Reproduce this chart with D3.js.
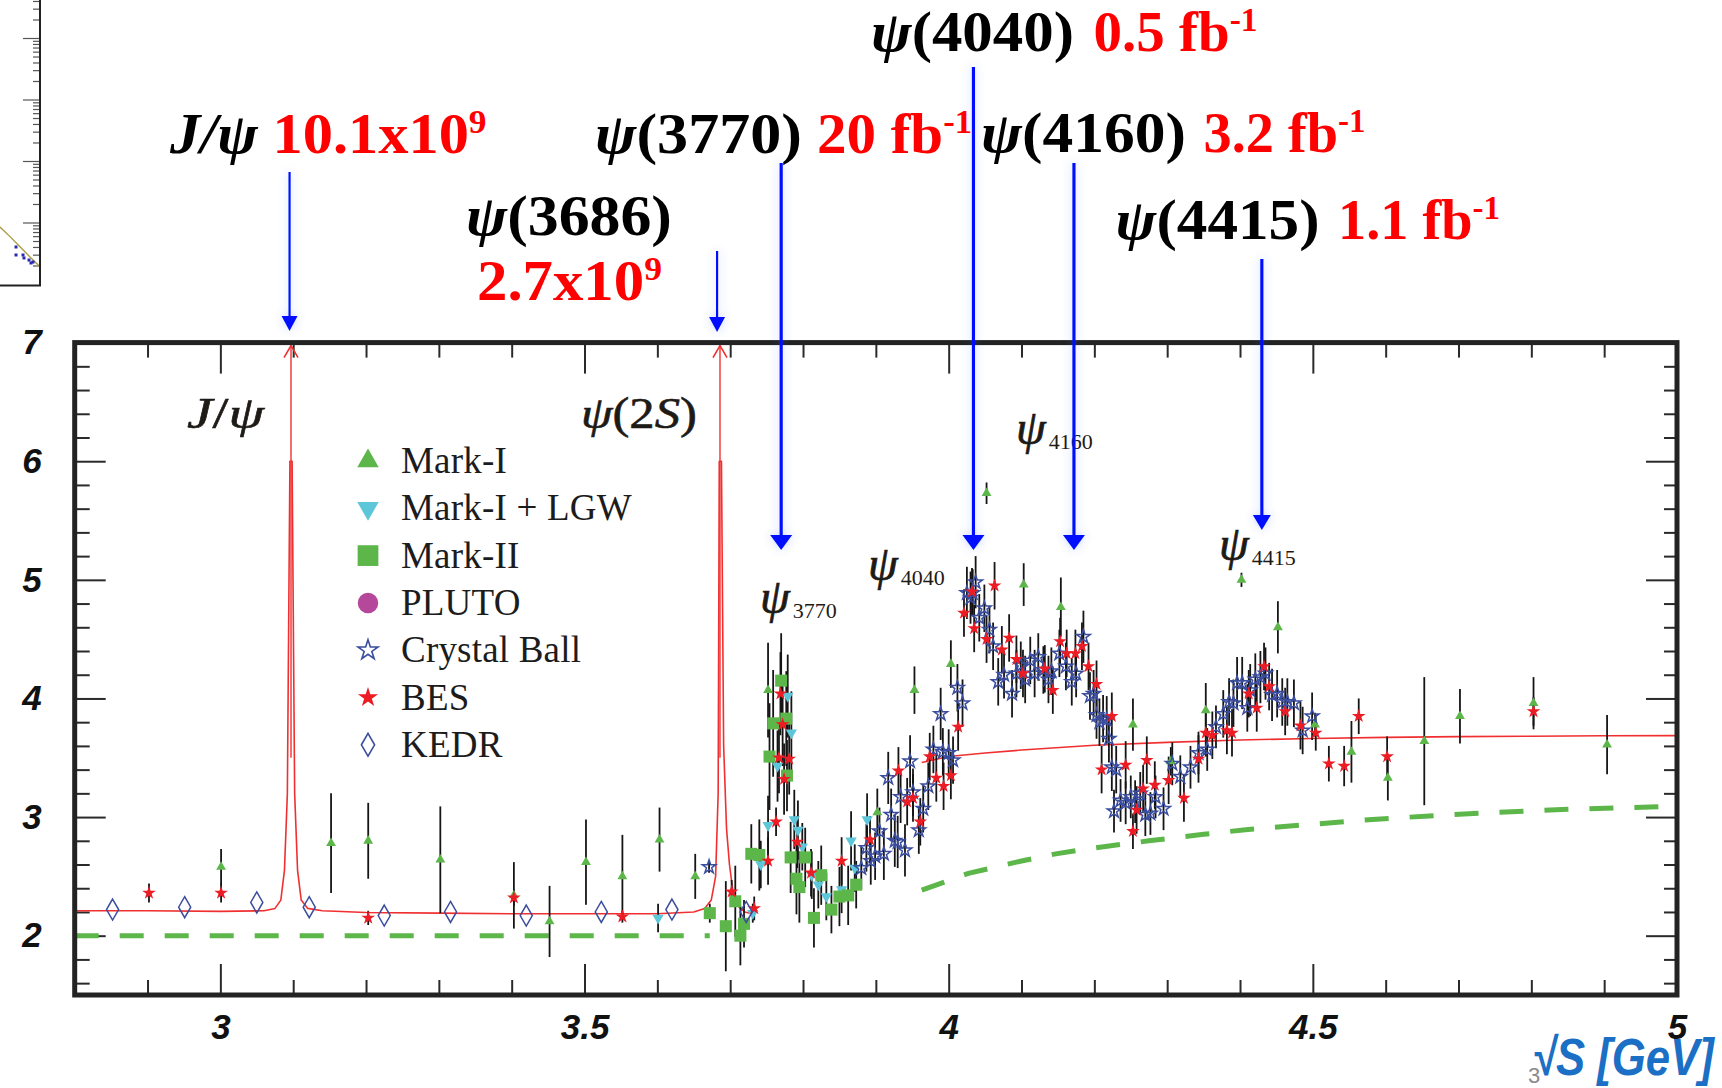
<!DOCTYPE html>
<html>
<head>
<meta charset="utf-8">
<script src="https://cdn.jsdelivr.net/npm/d3@7"></script>
<style>
  html, body { margin: 0; padding: 0; background: #ffffff; }
  svg { display: block; }
</style>
</head>
<body>
<svg id="chart" width="1722" height="1088"></svg>
<script>
// ---------------------------------------------------------------
// R ratio vs. centre-of-mass energy in the charmonium region
// ---------------------------------------------------------------

// axis ranges and ticks
const xDomain = [2.8, 5.0];
const yDomain = [1.5, 7.0];
const xMajorTicks = [3, 3.5, 4, 4.5, 5];
const xTickLabels = ["3", "3.5", "4", "4.5", "5"];
const yMajorTicks = [2, 3, 4, 5, 6, 7];
const yTickLabels = ["2", "3", "4", "5", "6", "7"];

// measurements: [sqrt(s) GeV, R, error]
const markI = [
  [3.001, 2.58, 0.15], [3.152, 2.78, 0.42], [3.203, 2.80, 0.32], [3.302, 2.64, 0.45],
  [3.403, 2.34, 0.28], [3.452, 2.12, 0.30], [3.502, 2.62, 0.36], [3.552, 2.50, 0.35],
  [3.603, 2.81, 0.27], [3.652, 2.50, 0.19], [3.752, 4.07, 0.40], [3.902, 3.04, 0.20],
  [3.953, 4.07, 0.20], [4.003, 4.29, 0.20], [4.052, 5.73, 0.09], [4.103, 4.96, 0.18],
  [4.154, 4.77, 0.25], [4.253, 3.78, 0.22], [4.305, 3.47, 0.12], [4.353, 3.90, 0.23],
  [4.402, 5.00, 0.06], [4.452, 4.60, 0.22], [4.503, 3.78, 0.10], [4.553, 3.55, 0.26],
  [4.603, 3.33, 0.19], [4.653, 3.64, 0.54], [4.702, 3.85, 0.23], [4.803, 3.96, 0.22],
  [4.904, 3.61, 0.25]
];

const markILGW = [
  [3.601, 2.15, 0.12], [3.731, 2.19, 0.08], [3.742, 2.60, 0.20], [3.752, 2.93, 0.25],
  [3.765, 3.43, 0.30], [3.779, 4.02, 0.35], [3.784, 3.71, 0.35], [3.788, 2.98, 0.25],
  [3.793, 2.89, 0.25], [3.799, 2.75, 0.20], [3.812, 2.51, 0.20], [3.821, 2.43, 0.20],
  [3.832, 2.33, 0.20], [3.853, 2.39, 0.20], [3.866, 2.80, 0.25], [3.871, 2.57, 0.20],
  [3.888, 2.98, 0.22]
];

const markII = [
  [3.672, 2.19, 0.08], [3.694, 2.08, 0.38], [3.707, 2.29, 0.30], [3.714, 2.00, 0.25],
  [3.719, 2.10, 0.20], [3.729, 2.69, 0.25], [3.740, 2.68, 0.30], [3.754, 3.51, 0.45],
  [3.759, 3.79, 0.45], [3.770, 4.15, 0.40], [3.777, 3.83, 0.40], [3.778, 3.35, 0.30],
  [3.783, 2.66, 0.30], [3.791, 2.48, 0.30], [3.795, 2.41, 0.30], [3.803, 2.66, 0.25],
  [3.815, 2.15, 0.25], [3.825, 2.51, 0.25], [3.839, 2.22, 0.20], [3.850, 2.33, 0.25],
  [3.862, 2.34, 0.25], [3.873, 2.43, 0.20]
];

const pluto = [];

const crystalBall = [
  [3.671, 2.58, 0.05], [3.880, 2.57, 0.18], [3.887, 2.74, 0.20], [3.893, 2.63, 0.20],
  [3.899, 2.67, 0.20], [3.905, 2.88, 0.20], [3.911, 2.69, 0.22], [3.917, 3.33, 0.22],
  [3.921, 3.02, 0.22], [3.926, 2.80, 0.22], [3.930, 2.79, 0.22], [3.934, 3.17, 0.22],
  [3.940, 2.72, 0.22], [3.947, 3.47, 0.22], [3.951, 3.21, 0.20], [3.959, 2.89, 0.20],
  [3.965, 3.07, 0.20], [3.972, 3.26, 0.20], [3.979, 3.57, 0.20], [3.989, 3.87, 0.22],
  [3.992, 3.55, 0.20], [4.000, 3.54, 0.20], [4.006, 3.48, 0.20], [4.012, 4.09, 0.20],
  [4.019, 3.96, 0.20], [4.025, 4.89, 0.22], [4.030, 4.85, 0.22], [4.033, 4.89, 0.20],
  [4.037, 4.98, 0.22], [4.042, 4.68, 0.20], [4.049, 4.76, 0.20], [4.056, 4.58, 0.20],
  [4.061, 4.44, 0.20], [4.068, 4.14, 0.20], [4.076, 4.20, 0.20], [4.087, 4.04, 0.20],
  [4.093, 4.21, 0.20], [4.099, 4.28, 0.20], [4.105, 4.16, 0.20], [4.112, 4.32, 0.20],
  [4.118, 4.21, 0.20], [4.123, 4.35, 0.20], [4.130, 4.24, 0.20], [4.137, 4.16, 0.20],
  [4.141, 4.23, 0.20], [4.152, 4.38, 0.20], [4.161, 4.27, 0.20], [4.169, 4.14, 0.20],
  [4.175, 4.21, 0.20], [4.185, 4.52, 0.22], [4.194, 4.02, 0.20], [4.199, 4.04, 0.20],
  [4.203, 3.86, 0.20], [4.207, 3.80, 0.20], [4.212, 3.83, 0.20], [4.217, 3.82, 0.20],
  [4.220, 3.66, 0.20], [4.224, 3.42, 0.20], [4.230, 3.40, 0.20], [4.227, 3.05, 0.18],
  [4.236, 3.14, 0.18], [4.243, 3.12, 0.18], [4.250, 3.17, 0.18], [4.256, 3.13, 0.18],
  [4.263, 3.20, 0.18], [4.270, 3.02, 0.18], [4.277, 3.03, 0.18], [4.284, 3.17, 0.18],
  [4.295, 3.07, 0.18], [4.307, 3.45, 0.18], [4.318, 3.34, 0.18], [4.332, 3.42, 0.18],
  [4.343, 3.54, 0.18], [4.355, 3.57, 0.18], [4.367, 3.76, 0.18], [4.377, 3.87, 0.20],
  [4.385, 3.97, 0.20], [4.391, 3.96, 0.20], [4.396, 4.13, 0.22], [4.403, 4.13, 0.22],
  [4.410, 3.92, 0.20], [4.414, 4.07, 0.22], [4.421, 4.16, 0.22], [4.428, 4.18, 0.22],
  [4.435, 4.21, 0.22], [4.444, 4.03, 0.22], [4.451, 4.04, 0.20], [4.458, 3.97, 0.20],
  [4.465, 3.97, 0.20], [4.474, 3.96, 0.20], [4.486, 3.73, 0.20], [4.499, 3.85, 0.20]
];

const bes = [
  [2.902, 2.36, 0.08], [3.001, 2.36, 0.08], [3.203, 2.15, 0.06], [3.403, 2.32, 0.07],
  [3.552, 2.16, 0.05], [3.702, 2.37, 0.10], [3.733, 2.23, 0.10], [3.752, 2.63, 0.20],
  [3.763, 2.96, 0.12], [3.767, 3.50, 0.30], [3.769, 4.04, 0.35], [3.772, 3.78, 0.35],
  [3.774, 3.32, 0.30], [3.781, 3.49, 0.30], [3.792, 2.79, 0.22], [3.811, 2.53, 0.20],
  [3.853, 2.63, 0.20], [3.892, 2.81, 0.20], [3.931, 3.39, 0.20], [3.943, 3.13, 0.20],
  [3.951, 3.16, 0.20], [3.961, 2.96, 0.20], [3.974, 3.51, 0.20], [3.983, 3.33, 0.20],
  [3.993, 3.26, 0.20], [4.003, 3.35, 0.20], [4.013, 3.76, 0.20], [4.021, 4.72, 0.20],
  [4.032, 4.90, 0.20], [4.035, 4.59, 0.20], [4.052, 4.50, 0.20], [4.063, 4.95, 0.20],
  [4.073, 4.41, 0.20], [4.083, 4.51, 0.20], [4.093, 4.33, 0.20], [4.102, 4.21, 0.20],
  [4.132, 4.25, 0.20], [4.143, 4.07, 0.20], [4.153, 4.48, 0.20], [4.162, 4.38, 0.20],
  [4.174, 4.38, 0.20], [4.183, 4.44, 0.20], [4.192, 4.27, 0.20], [4.203, 4.12, 0.20],
  [4.210, 3.40, 0.20], [4.224, 3.85, 0.20], [4.243, 3.44, 0.20], [4.253, 2.88, 0.15],
  [4.258, 3.06, 0.20], [4.267, 3.24, 0.20], [4.272, 3.48, 0.20], [4.283, 3.27, 0.20],
  [4.302, 3.31, 0.20], [4.323, 3.16, 0.20], [4.343, 3.49, 0.20], [4.353, 3.71, 0.20],
  [4.362, 3.69, 0.20], [4.382, 3.73, 0.20], [4.389, 3.71, 0.20], [4.412, 4.04, 0.20],
  [4.423, 3.92, 0.20], [4.433, 4.27, 0.20], [4.440, 4.10, 0.20], [4.462, 3.89, 0.20],
  [4.483, 3.77, 0.20], [4.504, 3.71, 0.15], [4.522, 3.45, 0.15], [4.543, 3.43, 0.17],
  [4.563, 3.85, 0.15], [4.602, 3.51, 0.17], [4.803, 3.89, 0.12]
];

const kedr = [
  [2.852, 2.22, 0], [2.951, 2.24, 0], [3.050, 2.28, 0], [3.122, 2.24, 0], [3.225, 2.17, 0],
  [3.316, 2.20, 0], [3.420, 2.17, 0], [3.523, 2.20, 0], [3.620, 2.22, 0], [3.722, 2.20, 0]
];

// theory curves: [sqrt(s) GeV, R]
const fitCurveLow = [
  [2.80, 2.21], [2.90, 2.21], [3.00, 2.205], [3.06, 2.21], [3.075, 2.23], [3.083, 2.30],
  [3.088, 2.55], [3.092, 3.20], [3.0955, 6.0], [3.0985, 6.0], [3.102, 3.20], [3.106, 2.55],
  [3.111, 2.30], [3.12, 2.23], [3.14, 2.21], [3.20, 2.195], [3.30, 2.19], [3.40, 2.185],
  [3.50, 2.185], [3.60, 2.185], [3.65, 2.20], [3.665, 2.23], [3.674, 2.30], [3.680, 2.50],
  [3.6835, 3.20], [3.685, 6.0], [3.688, 6.0], [3.691, 3.60], [3.695, 2.90], [3.699, 2.60],
  [3.704, 2.36], [3.711, 2.25], [3.720, 2.20], [3.733, 2.18]
];
const fitCurveHigh = [
  [3.963, 3.46], [4.00, 3.51], [4.05, 3.54], [4.10, 3.565], [4.20, 3.605], [4.30, 3.63],
  [4.40, 3.65], [4.50, 3.663], [4.60, 3.672], [4.70, 3.678], [4.80, 3.682], [4.90, 3.685],
  [5.00, 3.687]
];
const pqcdLow = [[2.80, 2.0], [3.672, 2.0]];
const pqcdHigh = [
  [3.963, 2.384], [4.027, 2.525], [4.10, 2.63], [4.147, 2.69], [4.20, 2.74], [4.275, 2.80],
  [4.35, 2.855], [4.411, 2.896], [4.50, 2.94], [4.582, 2.98], [4.66, 3.01], [4.752, 3.04],
  [4.85, 3.065], [4.93, 3.08], [5.00, 3.09]
];
// narrow resonances drawn as arrows running off the scale
const narrowPeaks = [3.097, 3.686];

// resonances marked with blue arrows, and the data samples collected there
const resonanceArrowX = [3.095, 3.682, 3.770, 4.034, 4.172, 4.430];
const resonanceNames = ["J/ψ", "ψ(3686)", "ψ(3770)", "ψ(4040)", "ψ(4160)", "ψ(4415)"];
const sampleValues = ["10.1x10", "2.7x10", "20 fb", "0.5 fb", "3.2 fb", "1.1 fb"];
const sampleExponents = ["9", "9", "-1", "-1", "-1", "-1"];

// small log-scale panel at the upper left edge
const insetCurve = [[0.0, 8.6], [0.25, 6.0], [0.5, 4.1], [0.75, 2.8], [1.0, 1.95]];
const insetPoints = [[0.40, 4.07], [0.40, 3.02], [0.575, 3.02], [0.60, 2.70], [0.725, 2.50], [0.775, 2.24], [0.825, 2.32]];

// ---------------------------------------------------------------
const svg = d3.select("#chart");
const plot = { left: 74.7, right: 1677, top: 342.6, bottom: 995 };

const x = d3.scaleLinear().domain(xDomain).range([plot.left, plot.right]);
const y = d3.scaleLinear().domain(yDomain).range([plot.bottom, plot.top]);

const GREEN = "#5cb649", CYAN = "#5ec6d9", MAGENTA = "#b6489b",
      BLUE = "#3a4d9e", RED = "#ec1c24";

// stretch a text horizontally about its anchor so it spans a given width
function fitWidth(sel, x0, width) {
  const w = sel.node().getComputedTextLength();
  if (w > 0) sel.attr("transform", `translate(${x0},0) scale(${width / w},1) translate(${-x0},0)`);
  return sel;
}

const defs = svg.append("defs");
defs.append("clipPath").attr("id", "plotClip")
  .append("rect").attr("x", plot.left).attr("y", plot.top - 2)
  .attr("width", plot.right - plot.left).attr("height", plot.bottom - plot.top + 2);

const glow = defs.append("filter").attr("id", "glow")
  .attr("x", "-300%").attr("y", "-10%").attr("width", "700%").attr("height", "120%");
glow.append("feGaussianBlur").attr("in", "SourceAlpha").attr("stdDeviation", 5).attr("result", "b");
glow.append("feFlood").attr("flood-color", "#4060ff").attr("flood-opacity", 0.28).attr("result", "c");
glow.append("feComposite").attr("in", "c").attr("in2", "b").attr("operator", "in").attr("result", "g");
const gm = glow.append("feMerge");
gm.append("feMergeNode").attr("in", "g");
gm.append("feMergeNode").attr("in", "SourceGraphic");

// ---------- inset fragment (log axis) ----------
const insetY = d3.scaleLog().domain([1, 1e4]).range([284.5, 38.5]);
const insetX = d3.scaleLinear().domain([0, 1]).range([0, 40]);
const inset = svg.append("g");
const insetTicks = [];
for (let n = 0; n <= 4; n++) for (let k = 1; k <= 9; k++) {
  const v = k * Math.pow(10, n);
  if (insetY(v) >= 0 && v > 1) insetTicks.push({ v, major: k === 1 });
}
inset.selectAll("line.t").data(insetTicks).join("line")
  .attr("x1", d => d.major ? 23 : 33).attr("x2", 40)
  .attr("y1", d => insetY(d.v)).attr("y2", d => insetY(d.v))
  .attr("stroke", "#555").attr("stroke-width", 1.2);
inset.append("path")
  .attr("d", d3.line().x(d => insetX(d[0])).y(d => insetY(d[1]))(insetCurve))
  .attr("fill", "none").attr("stroke", "#a89a3c").attr("stroke-width", 1.3);
inset.selectAll("rect.p").data(insetPoints).join("rect")
  .attr("x", d => insetX(d[0]) - 1.5).attr("y", d => insetY(d[1]) - 1.5)
  .attr("width", 3).attr("height", 3).attr("fill", "#2a2ab0");
inset.append("path").attr("d", "M40,0 V285.5 H0").attr("fill", "none")
  .attr("stroke", "#222").attr("stroke-width", 2);

// ---------- axes ----------
function steps(a, b, s) {
  return d3.range(Math.round(a / s), Math.round(b / s) + 1).map(i => +(i * s).toFixed(3));
}
const xMinor = steps(2.9, 4.9, 0.1).filter(v => !xMajorTicks.some(m => Math.abs(m - v) < 1e-6));
const yMinor = steps(1.6, 6.8, 0.2).filter(v => Math.abs(v - Math.round(v)) > 1e-6);

const axisG = svg.append("g").attr("class", "axes");
function styleAxis(g) {
  g.select(".domain").remove();
  g.selectAll(".tick line").attr("stroke", "#2a2a2a").attr("stroke-width", 2);
  g.selectAll(".tick text")
    .attr("font-family", "'Liberation Sans', Arial, sans-serif")
    .attr("font-weight", "bold").attr("font-style", "italic")
    .attr("fill", "#111");
}
axisG.append("g").attr("transform", `translate(0,${plot.bottom})`)
  .call(d3.axisBottom(x).tickValues(xMinor).tickSize(-15).tickFormat("")).call(styleAxis);
axisG.append("g").attr("transform", `translate(0,${plot.bottom})`)
  .call(d3.axisBottom(x).tickValues(xMajorTicks).tickSize(-31).tickPadding(19)
    .tickFormat((d, i) => xTickLabels[i]))
  .call(styleAxis).call(g => g.selectAll(".tick text").attr("font-size", 35));
axisG.append("g").attr("transform", `translate(0,${plot.top})`)
  .call(d3.axisTop(x).tickValues(xMinor).tickSize(-15).tickFormat("")).call(styleAxis);
axisG.append("g").attr("transform", `translate(0,${plot.top})`)
  .call(d3.axisTop(x).tickValues(xMajorTicks).tickSize(-31).tickFormat("")).call(styleAxis);
axisG.append("g").attr("transform", `translate(${plot.left},0)`)
  .call(d3.axisLeft(y).tickValues(yMinor).tickSize(-15).tickFormat("")).call(styleAxis);
axisG.append("g").attr("transform", `translate(${plot.left},0)`)
  .call(d3.axisLeft(y).tickValues(yMajorTicks).tickSize(-31).tickPadding(33)
    .tickFormat((d, i) => yTickLabels[i]))
  .call(styleAxis).call(g => g.selectAll(".tick text").attr("font-size", 35));
axisG.append("g").attr("transform", `translate(${plot.right},0)`)
  .call(d3.axisRight(y).tickValues(yMinor).tickSize(-13).tickFormat("")).call(styleAxis);
axisG.append("g").attr("transform", `translate(${plot.right},0)`)
  .call(d3.axisRight(y).tickValues(yMajorTicks).tickSize(-31).tickFormat("")).call(styleAxis);

// ---------- curves ----------
const curves = svg.append("g").attr("clip-path", "url(#plotClip)");
const line = d3.line().x(d => x(d[0])).y(d => y(d[1]));
[pqcdLow, pqcdHigh].forEach(c => curves.append("path").attr("d", line(c))
  .attr("fill", "none").attr("stroke", GREEN).attr("stroke-width", 5)
  .attr("stroke-dasharray", "24,21"));
[fitCurveLow, fitCurveHigh].forEach(c => curves.append("path").attr("d", line(c))
  .attr("fill", "none").attr("stroke", "#f03030").attr("stroke-width", 1.6)
  .attr("stroke-linejoin", "round"));

const peakG = svg.append("g");
narrowPeaks.forEach(p => {
  const px = x(p), top = y(yDomain[1]) + 3;
  peakG.append("line").attr("x1", px).attr("x2", px)
    .attr("y1", y(3.5)).attr("y2", top)
    .attr("stroke", "#f03030").attr("stroke-width", 1.4);
  peakG.append("path").attr("d", `M${px - 7},${top + 12} L${px},${top} L${px + 7},${top + 12}`)
    .attr("fill", "none").attr("stroke", "#f03030").attr("stroke-width", 1.6);
});

// ---------- data points ----------
const series = [
  { name: "Mark-I",       data: markI,       type: d3.symbolTriangle, size: 42,  rot: 0,   fill: GREEN,   stroke: "none", legendSize: 200 },
  { name: "Mark-I + LGW", data: markILGW,    type: d3.symbolTriangle, size: 55,  rot: 180, fill: CYAN,    stroke: "none", legendSize: 200 },
  { name: "Mark-II",      data: markII,      type: d3.symbolSquare,   size: 145, rot: 0,   fill: GREEN,   stroke: "none", legendSize: 430 },
  { name: "PLUTO",        data: pluto,       type: d3.symbolCircle,   size: 90,  rot: 0,   fill: MAGENTA, stroke: "none", legendSize: 330 },
  { name: "Crystal Ball", data: crystalBall, type: d3.symbolStar,     size: 58,  rot: 0,   fill: "none",  stroke: BLUE,   legendSize: 125 },
  { name: "BES",          data: bes,         type: d3.symbolStar,     size: 58,  rot: 0,   fill: RED,     stroke: "none", legendSize: 125 },
  { name: "KEDR",         data: kedr,        type: d3.symbolDiamond,  size: 127, rot: 0,   fill: "none",  stroke: BLUE,   legendSize: 150 }
];

const errG = svg.append("g").attr("clip-path", "url(#plotClip)");
series.forEach(s => {
  errG.selectAll(null).data(s.data.filter(d => d[2] > 0)).join("line")
    .attr("x1", d => x(d[0])).attr("x2", d => x(d[0]))
    .attr("y1", d => y(d[1] - d[2])).attr("y2", d => y(d[1] + d[2]))
    .attr("stroke", "#151515").attr("stroke-width", 1.8);
});

const markG = svg.append("g");
series.forEach(s => {
  markG.selectAll(null).data(s.data).join("path")
    .attr("d", d3.symbol(s.type, s.size))
    .attr("transform", d => `translate(${x(d[0])},${y(d[1])}) rotate(${s.rot})`)
    .attr("fill", s.fill).attr("stroke", s.stroke).attr("stroke-width", 1.5);
});

// ---------- frame ----------
svg.append("rect").attr("x", plot.left).attr("y", plot.top)
  .attr("width", plot.right - plot.left).attr("height", plot.bottom - plot.top)
  .attr("fill", "none").attr("stroke", "#232323").attr("stroke-width", 5);

// ---------- legend ----------
const serif = "'Liberation Serif', 'DejaVu Serif', serif";
const legend = svg.append("g").attr("transform", "translate(368,461)");
series.forEach((s, i) => {
  const row = legend.append("g").attr("transform", `translate(0,${i * 47.3})`);
  row.append("path").attr("d", d3.symbol(s.type, s.legendSize))
    .attr("transform", `rotate(${s.rot})`)
    .attr("fill", s.fill).attr("stroke", s.stroke).attr("stroke-width", 1.6);
  row.append("text").attr("x", 33).attr("y", 12)
    .attr("font-family", serif).attr("font-size", 37).attr("letter-spacing", 0.2)
    .attr("fill", "#1c1c1c").text(s.name);
});

// ---------- resonance labels inside the frame ----------
function mathLabel(xp, yp, parts, size, width) {
  const t = svg.append("text").attr("x", xp).attr("y", yp)
    .attr("font-family", serif).attr("font-size", size).attr("fill", "#1e1a16")
    .attr("stroke", "#1e1a16").attr("stroke-width", 0.6);
  parts.forEach(p => t.append("tspan").attr("font-style", p[1] ? "italic" : "normal").text(p[0]));
  return fitWidth(t, xp, width);
}
mathLabel(187, 428, [["J", true], ["/", false], ["ψ", true]], 45, 77);
mathLabel(581, 428, [["ψ", true], ["(2", false], ["S", true], [")", false]], 45, 116);

const subLabels = [
  { sub: "4160", x: 1016, y: 444 },
  { sub: "4040", x: 868, y: 580 },
  { sub: "3770", x: 760, y: 613 },
  { sub: "4415", x: 1219, y: 560 }
];
subLabels.forEach(l => {
  const t = svg.append("text").attr("x", l.x).attr("y", l.y)
    .attr("font-family", serif).attr("fill", "#1e1a16");
  t.append("tspan").attr("font-style", "italic").attr("font-size", 48)
    .attr("stroke", "#1e1a16").attr("stroke-width", 0.7).text("ψ");
  t.append("tspan").attr("font-size", 22).attr("dx", 3).attr("dy", 5).text(l.sub);
});

// ---------- annotation arrows ----------
const arrowLayout = [
  { top: 172, tip: 331, w: 2.2, head: 8 },
  { top: 251, tip: 332, w: 2.2, head: 8 },
  { top: 163, tip: 550, w: 3.2, head: 11 },
  { top: 67,  tip: 550, w: 3.2, head: 11 },
  { top: 163, tip: 550, w: 3.2, head: 11 },
  { top: 259, tip: 530, w: 3.2, head: 9 }
];
const arrowG = svg.append("g").attr("filter", "url(#glow)");
resonanceArrowX.forEach((e, i) => {
  const a = arrowLayout[i], px = x(e);
  arrowG.append("line").attr("x1", px).attr("x2", px)
    .attr("y1", a.top).attr("y2", a.tip - 12)
    .attr("stroke", "#0010ff").attr("stroke-width", a.w);
  arrowG.append("path")
    .attr("d", `M${px - a.head},${a.tip - 15} L${px + a.head},${a.tip - 15} L${px},${a.tip} Z`)
    .attr("fill", "#0010ff");
});

// ---------- sample annotations ----------
const annLayout = [
  { x: 170,    y: 153, nameW: 88,  vx: 272.6,  vy: 153, valueW: 214 },
  { x: 466,    y: 235, nameW: 206, vx: 477,    vy: 300, valueW: 185 },
  { x: 595,    y: 153, nameW: 207, vx: 817,    vy: 153, valueW: 155 },
  { x: 871,    y: 51,  nameW: 203, vx: 1093.6, vy: 51,  valueW: 164 },
  { x: 981,    y: 152, nameW: 205, vx: 1203.6, vy: 152, valueW: 162 },
  { x: 1115.6, y: 239, nameW: 204, vx: 1338,   vy: 239, valueW: 162 }
];
resonanceNames.forEach((name, i) => {
  const L = annLayout[i];
  const t = svg.append("text").attr("x", L.x).attr("y", L.y)
    .attr("font-family", serif).attr("font-weight", "bold").attr("font-size", 58)
    .attr("fill", "#000");
  // Greek letters and J/ in italic, the mass in upright digits
  const m = name.match(/^([^(]*)(\(.*\))?$/);
  t.append("tspan").attr("font-style", "italic").text(m[1]);
  if (m[2]) t.append("tspan").text(m[2]);
  fitWidth(t, L.x, L.nameW);

  const v = svg.append("text").attr("x", L.vx).attr("y", L.vy)
    .attr("font-family", serif).attr("font-weight", "bold").attr("font-size", 58)
    .attr("fill", "#ff0000");
  v.append("tspan").text(sampleValues[i]);
  v.append("tspan").attr("font-size", 34).attr("dy", -20).text(sampleExponents[i]);
  fitWidth(v, L.vx, L.valueW);
});

// ---------- axis title ----------
svg.append("text").attr("x", 1528).attr("y", 1083)
  .attr("font-family", "'Liberation Sans', Arial, sans-serif").attr("font-size", 22)
  .attr("fill", "#8a8a8a").text("3");
const axisTitle = svg.append("text").attr("x", 1532).attr("y", 1075)
  .attr("font-family", "'Liberation Sans', Arial, sans-serif")
  .attr("font-weight", "bold").attr("font-style", "italic").attr("font-size", 52)
  .attr("fill", "#1b6fc4").text("√S [GeV]");
fitWidth(axisTitle, 1532, 182);
</script>
</body>
</html>
